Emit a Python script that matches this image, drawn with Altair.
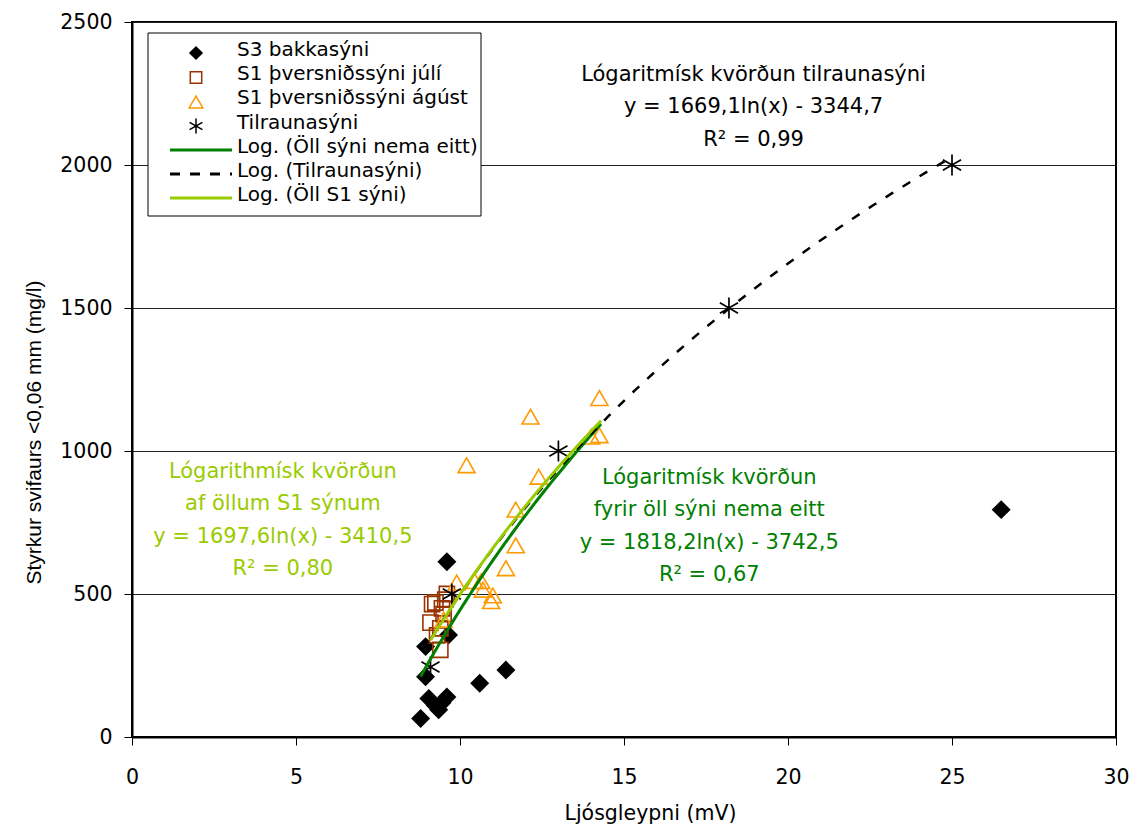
import altair as alt
import pandas as pd
import numpy as np

# ---------------- data ----------------
s3_x = [8.8, 8.95, 8.95, 9.05, 9.25, 9.35, 9.45, 9.6, 9.6, 9.65, 10.6, 11.4, 26.5]
s3_y = [65, 211, 316, 135, 110, 95, 120, 140, 613, 357, 188, 234, 795]

jul_x = [9.1, 9.15, 9.25, 9.3, 9.4, 9.45, 9.5, 9.55, 9.6, 9.4]
jul_y = [400, 465, 470, 355, 380, 450, 430, 480, 500, 305]

agu_x = [9.5, 9.9, 10.45, 10.65, 10.7, 10.95, 11.0, 11.4, 11.7, 11.7, 12.4, 10.2, 12.15, 14.0, 14.25, 14.25]
agu_y = [410, 540, 545, 545, 515, 475, 495, 590, 670, 795, 910, 950, 1120, 1050, 1055, 1185]

til_x = [9.1, 9.75, 13.0, 18.2, 25.0]
til_y = [245, 500, 1000, 1500, 2000]

# logarithmic trend lines y = a*ln(x) + b (coefficients printed on the chart)
fit_names = ["Log. (Öll sýni nema eitt)", "Log. (Tilraunasýni)", "Log. (Öll S1 sýni)"]
fit_a = [1818.2, 1669.1, 1697.6]
fit_b = [-3742.5, -3344.7, -3410.5]
fit_from = [8.8, 9.1, 9.1]
fit_to = [14.3, 25.0, 14.3]

legend_labels = ["S3 bakkasýni", "S1 þversniðssýni júlí", "S1 þversniðssýni ágúst",
                 "Tilraunasýni"] + fit_names

ann_text = [
    "Lógaritmísk kvörðun tilraunasýni\ny = 1669,1ln(x) - 3344,7\nR² = 0,99",
    "Lógarithmísk kvörðun\naf öllum S1 sýnum\ny = 1697,6ln(x) - 3410,5\nR² = 0,80",
    "Lógaritmísk kvörðun\nfyrir öll sýni nema eitt\ny = 1818,2ln(x) - 3742,5\nR² = 0,67",
]
ann_x = [18.95, 4.6, 17.6]
ann_y = [2315, 927, 906]

# ---------------- styling ----------------
FONT = "DejaVu Sans"
BLACK = "#000000"
BROWN = "#993300"
ORANGE = "#FF9900"
DGREEN = "#008000"
LGREEN = "#99CC00"
ann_colors = [BLACK, LGREEN, DGREEN]
ASTER = "M0,-1L0,1M-0.866,-0.5L0.866,0.5M-0.866,0.5L0.866,-0.5"

xs = alt.Scale(domain=[0, 30], nice=False, zero=False)
ys = alt.Scale(domain=[0, 2500], nice=False)

x_axis = alt.Axis(values=[0, 5, 10, 15, 20, 25, 30], format="d", title="Ljósgleypni (mV)", grid=False,
                  tickSize=8, labelPadding=22, labelFlush=False, titleX=518, titleY=82,
                  titleBaseline="alphabetic", titleFont=FONT, titleFontSize=20.5)
y_axis = alt.Axis(values=[0, 500, 1000, 1500, 2000, 2500], format="d",
                  title="Styrkur svifaurs <0,06 mm (mg/l)",
                  grid=True, gridColor="#222222", gridWidth=1, tickSize=8, labelPadding=12,
                  labelFlush=False,
                  titleX=-92, titleY=410, titleBaseline="alphabetic", titleAngle=-90,
                  titleFont="Liberation Sans", titleFontSize=21)


def X():
    return alt.X("x:Q", scale=xs, axis=x_axis)


def Y():
    return alt.Y("y:Q", scale=ys, axis=y_axis)


df_s3 = pd.DataFrame({"x": s3_x, "y": s3_y})
df_jul = pd.DataFrame({"x": jul_x, "y": jul_y})
df_agu = pd.DataFrame({"x": agu_x, "y": agu_y})
df_til = pd.DataFrame({"x": til_x, "y": til_y})

s3 = alt.Chart(df_s3).mark_point(shape="diamond", filled=True, color=BLACK, size=360, opacity=1).encode(x=X(), y=Y())
jul = alt.Chart(df_jul).mark_point(shape="square", filled=False, color=BROWN, size=230, strokeWidth=1.6, opacity=1).encode(x=X(), y=Y())
agu = alt.Chart(df_agu).mark_point(shape="triangle-up", filled=False, color=ORANGE, size=290, strokeWidth=1.6, opacity=1).encode(x=X(), y=Y())
til = alt.Chart(df_til).mark_point(shape=ASTER, filled=False, color=BLACK, size=440, strokeWidth=1.7, opacity=1).encode(x=X(), y=Y())


def fit_df(i):
    xx = np.linspace(fit_from[i], fit_to[i], 80)
    return pd.DataFrame({"x": xx, "y": fit_a[i] * np.log(xx) + fit_b[i]})


line_dg = alt.Chart(fit_df(0)).mark_line(color=DGREEN, strokeWidth=3).encode(x=X(), y=Y())
line_dash = alt.Chart(fit_df(1)).mark_line(color=BLACK, strokeWidth=2.5, strokeDash=[9, 11]).encode(x=X(), y=Y())
line_lg = alt.Chart(fit_df(2)).mark_line(color=LGREEN, strokeWidth=3).encode(x=X(), y=Y())

df_ann = pd.DataFrame({"x": ann_x, "y": ann_y, "text": ann_text, "color": ann_colors})
ann = alt.Chart(df_ann).mark_text(font=FONT, fontSize=21, lineBreak="\n", lineHeight=32.5,
                                  align="center", baseline="middle").encode(
    x=alt.X("x:Q", scale=xs, axis=x_axis), y=alt.Y("y:Q", scale=ys, axis=y_axis),
    text="text:N", color=alt.Color("color:N", scale=None))

# ---------------- legend box (drawn inside plot) ----------------
one = pd.DataFrame({"k": [0]})
leg_box = alt.Chart(one).mark_rect(fill="white", stroke=BLACK, strokeWidth=1).encode(
    x=alt.value(16), x2=alt.value(349), y=alt.value(11), y2=alt.value(194))

SX = 64
leg_pts = [
    alt.Chart(one).mark_point(shape="diamond", filled=True, color=BLACK, size=200, opacity=1).encode(x=alt.value(SX), y=alt.value(31)),
    alt.Chart(one).mark_point(shape="square", filled=False, color=BROWN, size=130, strokeWidth=1.5, opacity=1).encode(x=alt.value(SX), y=alt.value(55.5)),
    alt.Chart(one).mark_point(shape="triangle-up", filled=False, color=ORANGE, size=190, strokeWidth=1.5, opacity=1).encode(x=alt.value(SX), y=alt.value(80)),
    alt.Chart(one).mark_point(shape=ASTER, filled=False, color=BLACK, size=220, strokeWidth=1.5, opacity=1).encode(x=alt.value(SX), y=alt.value(104)),
    alt.Chart(one).mark_rule(color=DGREEN, strokeWidth=3).encode(x=alt.value(38), x2=alt.value(100), y=alt.value(128)),
    alt.Chart(one).mark_rule(color=BLACK, strokeWidth=3, strokeDash=[10, 10]).encode(x=alt.value(38), x2=alt.value(100), y=alt.value(152)),
    alt.Chart(one).mark_rule(color=LGREEN, strokeWidth=3).encode(x=alt.value(38), x2=alt.value(100), y=alt.value(176)),
]

df_leg = pd.DataFrame({"row": list(range(len(legend_labels))), "label": legend_labels})
leg_text = alt.Chart(df_leg).mark_text(font=FONT, fontSize=20, align="left", baseline="middle", color=BLACK).transform_calculate(
    ly="28 + 24.2 * datum.row").encode(
    x=alt.value(105), y=alt.Y("ly:Q", scale=None), text="label:N")

chart = alt.layer(
    s3, jul, agu, til, line_dg, line_dash, line_lg, ann, leg_box, *leg_pts, leg_text
).properties(
    width=984, height=715,
    autosize=alt.AutoSizeParams(type="none"),
    padding={"left": 124, "top": 14, "right": 13, "bottom": 92},
).configure_view(
    stroke=BLACK, strokeWidth=2
).configure_axis(
    domainColor=BLACK, domainWidth=2, tickColor=BLACK, tickWidth=1,
    labelFont=FONT, labelFontSize=20.5, labelColor=BLACK,
    titleColor=BLACK, titleFontWeight="normal"
)

chart.save("out.html", embed_options={"renderer": "svg", "actions": False})
